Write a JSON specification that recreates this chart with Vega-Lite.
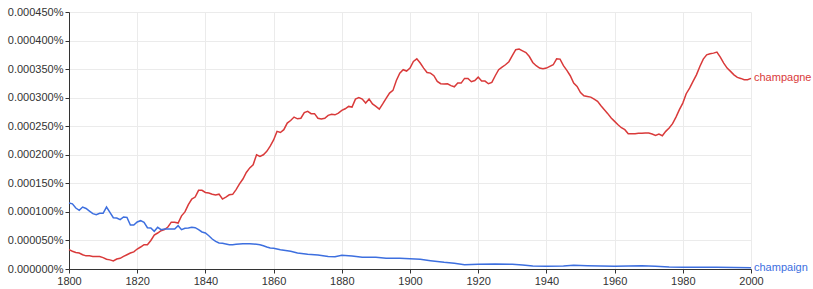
{
  "$schema": "https://vega.github.io/schema/vega-lite/v6.json",
  "width": 682,
  "height": 257,
  "autosize": {"type": "none"},
  "padding": {"left": 69, "top": 12, "right": 62, "bottom": 20},
  "config": {
    "view": {"stroke": null},
    "font": "Liberation Sans",
    "axis": {
      "labelFont": "Liberation Sans",
      "labelFontSize": 11,
      "labelColor": "#333333",
      "domainColor": "#333333",
      "tickColor": "#333333",
      "gridColor": "#ebebeb",
      "tickSize": 4,
      "labelPadding": 2,
      "title": null
    }
  },
  "datasets": {
    "ngram": [
      {"year":1800,"word":"champagne","v":33.8e-6},{"year":1801,"word":"champagne","v":31e-6},{"year":1802,"word":"champagne","v":29e-6},{"year":1803,"word":"champagne","v":28e-6},{"year":1804,"word":"champagne","v":25e-6},{"year":1805,"word":"champagne","v":23e-6},{"year":1806,"word":"champagne","v":23e-6},{"year":1807,"word":"champagne","v":22e-6},{"year":1808,"word":"champagne","v":22e-6},{"year":1809,"word":"champagne","v":22e-6},
      {"year":1810,"word":"champagne","v":20e-6},{"year":1811,"word":"champagne","v":17e-6},{"year":1812,"word":"champagne","v":16e-6},{"year":1813,"word":"champagne","v":14e-6},{"year":1814,"word":"champagne","v":17.5e-6},{"year":1815,"word":"champagne","v":18.7e-6},{"year":1816,"word":"champagne","v":22e-6},{"year":1817,"word":"champagne","v":25e-6},{"year":1818,"word":"champagne","v":28e-6},{"year":1819,"word":"champagne","v":30e-6},
      {"year":1820,"word":"champagne","v":35e-6},{"year":1821,"word":"champagne","v":38.5e-6},{"year":1822,"word":"champagne","v":42.6e-6},{"year":1823,"word":"champagne","v":42.6e-6},{"year":1824,"word":"champagne","v":50e-6},{"year":1825,"word":"champagne","v":59.5e-6},{"year":1826,"word":"champagne","v":63e-6},{"year":1827,"word":"champagne","v":67e-6},{"year":1828,"word":"champagne","v":69e-6},{"year":1829,"word":"champagne","v":73.5e-6},
      {"year":1830,"word":"champagne","v":82e-6},{"year":1831,"word":"champagne","v":82e-6},{"year":1832,"word":"champagne","v":80.5e-6},{"year":1833,"word":"champagne","v":93e-6},{"year":1834,"word":"champagne","v":100e-6},{"year":1835,"word":"champagne","v":112.6e-6},{"year":1836,"word":"champagne","v":122.5e-6},{"year":1837,"word":"champagne","v":126e-6},{"year":1838,"word":"champagne","v":137.7e-6},{"year":1839,"word":"champagne","v":137.7e-6},
      {"year":1840,"word":"champagne","v":134e-6},{"year":1841,"word":"champagne","v":133e-6},{"year":1842,"word":"champagne","v":131e-6},{"year":1843,"word":"champagne","v":129.5e-6},{"year":1844,"word":"champagne","v":131e-6},{"year":1845,"word":"champagne","v":122.5e-6},{"year":1846,"word":"champagne","v":126e-6},{"year":1847,"word":"champagne","v":130e-6},{"year":1848,"word":"champagne","v":130.7e-6},{"year":1849,"word":"champagne","v":139e-6},
      {"year":1850,"word":"champagne","v":149e-6},{"year":1851,"word":"champagne","v":157.5e-6},{"year":1852,"word":"champagne","v":169e-6},{"year":1853,"word":"champagne","v":177e-6},{"year":1854,"word":"champagne","v":182.6e-6},{"year":1855,"word":"champagne","v":200e-6},{"year":1856,"word":"champagne","v":197e-6},{"year":1857,"word":"champagne","v":200e-6},{"year":1858,"word":"champagne","v":206e-6},{"year":1859,"word":"champagne","v":215e-6},
      {"year":1860,"word":"champagne","v":226e-6},{"year":1861,"word":"champagne","v":241e-6},{"year":1862,"word":"champagne","v":239e-6},{"year":1863,"word":"champagne","v":244e-6},{"year":1864,"word":"champagne","v":255.5e-6},{"year":1865,"word":"champagne","v":260e-6},{"year":1866,"word":"champagne","v":266e-6},{"year":1867,"word":"champagne","v":263e-6},{"year":1868,"word":"champagne","v":264e-6},{"year":1869,"word":"champagne","v":274e-6},
      {"year":1870,"word":"champagne","v":276e-6},{"year":1871,"word":"champagne","v":272e-6},{"year":1872,"word":"champagne","v":272e-6},{"year":1873,"word":"champagne","v":264e-6},{"year":1874,"word":"champagne","v":262.5e-6},{"year":1875,"word":"champagne","v":264e-6},{"year":1876,"word":"champagne","v":269e-6},{"year":1877,"word":"champagne","v":271e-6},{"year":1878,"word":"champagne","v":270e-6},{"year":1879,"word":"champagne","v":273e-6},
      {"year":1880,"word":"champagne","v":277.7e-6},{"year":1881,"word":"champagne","v":280.6e-6},{"year":1882,"word":"champagne","v":284.7e-6},{"year":1883,"word":"champagne","v":283.5e-6},{"year":1884,"word":"champagne","v":297.5e-6},{"year":1885,"word":"champagne","v":300e-6},{"year":1886,"word":"champagne","v":297.5e-6},{"year":1887,"word":"champagne","v":290.5e-6},{"year":1888,"word":"champagne","v":297.5e-6},{"year":1889,"word":"champagne","v":289e-6},
      {"year":1890,"word":"champagne","v":284.7e-6},{"year":1891,"word":"champagne","v":280e-6},{"year":1892,"word":"champagne","v":289e-6},{"year":1893,"word":"champagne","v":298.7e-6},{"year":1894,"word":"champagne","v":308e-6},{"year":1895,"word":"champagne","v":312.7e-6},{"year":1896,"word":"champagne","v":330e-6},{"year":1897,"word":"champagne","v":343e-6},{"year":1898,"word":"champagne","v":349e-6},{"year":1899,"word":"champagne","v":346.6e-6},
      {"year":1900,"word":"champagne","v":351.8e-6},{"year":1901,"word":"champagne","v":363.5e-6},{"year":1902,"word":"champagne","v":368e-6},{"year":1903,"word":"champagne","v":360.6e-6},{"year":1904,"word":"champagne","v":351.8e-6},{"year":1905,"word":"champagne","v":344e-6},{"year":1906,"word":"champagne","v":343e-6},{"year":1907,"word":"champagne","v":338.4e-6},{"year":1908,"word":"champagne","v":328.5e-6},{"year":1909,"word":"champagne","v":324.4e-6},
      {"year":1910,"word":"champagne","v":323.8e-6},{"year":1911,"word":"champagne","v":324.4e-6},{"year":1912,"word":"champagne","v":321e-6},{"year":1913,"word":"champagne","v":319e-6},{"year":1914,"word":"champagne","v":325.5e-6},{"year":1915,"word":"champagne","v":325.5e-6},{"year":1916,"word":"champagne","v":333.7e-6},{"year":1917,"word":"champagne","v":333.7e-6},{"year":1918,"word":"champagne","v":328e-6},{"year":1919,"word":"champagne","v":330e-6},
      {"year":1920,"word":"champagne","v":336e-6},{"year":1921,"word":"champagne","v":329e-6},{"year":1922,"word":"champagne","v":329e-6},{"year":1923,"word":"champagne","v":324.4e-6},{"year":1924,"word":"champagne","v":326.7e-6},{"year":1925,"word":"champagne","v":338.4e-6},{"year":1926,"word":"champagne","v":349e-6},{"year":1927,"word":"champagne","v":353.6e-6},{"year":1928,"word":"champagne","v":357.6e-6},{"year":1929,"word":"champagne","v":363e-6},
      {"year":1930,"word":"champagne","v":373.4e-6},{"year":1931,"word":"champagne","v":384e-6},{"year":1932,"word":"champagne","v":385e-6},{"year":1933,"word":"champagne","v":382e-6},{"year":1934,"word":"champagne","v":379e-6},{"year":1935,"word":"champagne","v":372e-6},{"year":1936,"word":"champagne","v":361.7e-6},{"year":1937,"word":"champagne","v":356e-6},{"year":1938,"word":"champagne","v":351.8e-6},{"year":1939,"word":"champagne","v":350.6e-6},
      {"year":1940,"word":"champagne","v":351.8e-6},{"year":1941,"word":"champagne","v":354.7e-6},{"year":1942,"word":"champagne","v":357.6e-6},{"year":1943,"word":"champagne","v":368e-6},{"year":1944,"word":"champagne","v":367.5e-6},{"year":1945,"word":"champagne","v":356e-6},{"year":1946,"word":"champagne","v":347.7e-6},{"year":1947,"word":"champagne","v":338.4e-6},{"year":1948,"word":"champagne","v":325.5e-6},{"year":1949,"word":"champagne","v":319.7e-6},
      {"year":1950,"word":"champagne","v":309e-6},{"year":1951,"word":"champagne","v":303.4e-6},{"year":1952,"word":"champagne","v":302.2e-6},{"year":1953,"word":"champagne","v":301e-6},{"year":1954,"word":"champagne","v":297.5e-6},{"year":1955,"word":"champagne","v":293.5e-6},{"year":1956,"word":"champagne","v":285.9e-6},{"year":1957,"word":"champagne","v":279e-6},{"year":1958,"word":"champagne","v":272e-6},{"year":1959,"word":"champagne","v":264.3e-6},
      {"year":1960,"word":"champagne","v":258.5e-6},{"year":1961,"word":"champagne","v":252.6e-6},{"year":1962,"word":"champagne","v":247.4e-6},{"year":1963,"word":"champagne","v":243.9e-6},{"year":1964,"word":"champagne","v":236.9e-6},{"year":1965,"word":"champagne","v":236.9e-6},{"year":1966,"word":"champagne","v":236.9e-6},{"year":1967,"word":"champagne","v":237.5e-6},{"year":1968,"word":"champagne","v":237.5e-6},{"year":1969,"word":"champagne","v":238e-6},
      {"year":1970,"word":"champagne","v":238e-6},{"year":1971,"word":"champagne","v":236.3e-6},{"year":1972,"word":"champagne","v":234e-6},{"year":1973,"word":"champagne","v":236.3e-6},{"year":1974,"word":"champagne","v":233.4e-6},{"year":1975,"word":"champagne","v":241e-6},{"year":1976,"word":"champagne","v":246.8e-6},{"year":1977,"word":"champagne","v":254.4e-6},{"year":1978,"word":"champagne","v":266e-6},{"year":1979,"word":"champagne","v":279e-6},
      {"year":1980,"word":"champagne","v":290.5e-6},{"year":1981,"word":"champagne","v":306.9e-6},{"year":1982,"word":"champagne","v":316.8e-6},{"year":1983,"word":"champagne","v":328.5e-6},{"year":1984,"word":"champagne","v":340e-6},{"year":1985,"word":"champagne","v":354.7e-6},{"year":1986,"word":"champagne","v":367.5e-6},{"year":1987,"word":"champagne","v":375e-6},{"year":1988,"word":"champagne","v":376.9e-6},{"year":1989,"word":"champagne","v":378e-6},
      {"year":1990,"word":"champagne","v":379.8e-6},{"year":1991,"word":"champagne","v":371e-6},{"year":1992,"word":"champagne","v":360.6e-6},{"year":1993,"word":"champagne","v":351.8e-6},{"year":1994,"word":"champagne","v":346e-6},{"year":1995,"word":"champagne","v":340e-6},{"year":1996,"word":"champagne","v":335.5e-6},{"year":1997,"word":"champagne","v":333.7e-6},{"year":1998,"word":"champagne","v":331.4e-6},{"year":1999,"word":"champagne","v":331.4e-6},
      {"year":2000,"word":"champagne","v":333.7e-6},
      {"year":1800,"word":"champaign","v":115.5e-6},{"year":1801,"word":"champaign","v":114e-6},{"year":1802,"word":"champaign","v":106.8e-6},{"year":1803,"word":"champaign","v":102.7e-6},{"year":1804,"word":"champaign","v":108.5e-6},{"year":1805,"word":"champaign","v":106e-6},{"year":1806,"word":"champaign","v":101.5e-6},{"year":1807,"word":"champaign","v":96.9e-6},{"year":1808,"word":"champaign","v":95e-6},{"year":1809,"word":"champaign","v":97.4e-6},
      {"year":1810,"word":"champaign","v":97.4e-6},{"year":1811,"word":"champaign","v":108.5e-6},{"year":1812,"word":"champaign","v":99e-6},{"year":1813,"word":"champaign","v":89.8e-6},{"year":1814,"word":"champaign","v":89.3e-6},{"year":1815,"word":"champaign","v":86.3e-6},{"year":1816,"word":"champaign","v":91e-6},{"year":1817,"word":"champaign","v":90.4e-6},{"year":1818,"word":"champaign","v":77e-6},{"year":1819,"word":"champaign","v":77e-6},
      {"year":1820,"word":"champaign","v":82.3e-6},{"year":1821,"word":"champaign","v":84.6e-6},{"year":1822,"word":"champaign","v":81.7e-6},{"year":1823,"word":"champaign","v":72.3e-6},{"year":1824,"word":"champaign","v":71.8e-6},{"year":1825,"word":"champaign","v":66e-6},{"year":1826,"word":"champaign","v":73e-6},{"year":1827,"word":"champaign","v":68.8e-6},{"year":1828,"word":"champaign","v":70e-6},{"year":1829,"word":"champaign","v":70e-6},
      {"year":1830,"word":"champaign","v":70e-6},{"year":1831,"word":"champaign","v":70e-6},{"year":1832,"word":"champaign","v":75.8e-6},{"year":1833,"word":"champaign","v":68.8e-6},{"year":1834,"word":"champaign","v":71.2e-6},{"year":1835,"word":"champaign","v":71.8e-6},{"year":1836,"word":"champaign","v":73e-6},{"year":1837,"word":"champaign","v":72.3e-6},{"year":1838,"word":"champaign","v":68.8e-6},{"year":1839,"word":"champaign","v":64.8e-6},
      {"year":1840,"word":"champaign","v":63e-6},{"year":1841,"word":"champaign","v":58.3e-6},{"year":1842,"word":"champaign","v":52.5e-6},{"year":1843,"word":"champaign","v":48.4e-6},{"year":1844,"word":"champaign","v":45.5e-6},{"year":1845,"word":"champaign","v":45e-6},{"year":1846,"word":"champaign","v":43.8e-6},{"year":1847,"word":"champaign","v":42.6e-6},{"year":1848,"word":"champaign","v":42.6e-6},{"year":1849,"word":"champaign","v":43.2e-6},
      {"year":1850,"word":"champaign","v":43.8e-6},{"year":1851,"word":"champaign","v":44.3e-6},{"year":1852,"word":"champaign","v":44.3e-6},{"year":1853,"word":"champaign","v":44.3e-6},{"year":1854,"word":"champaign","v":43.8e-6},{"year":1855,"word":"champaign","v":43.2e-6},{"year":1856,"word":"champaign","v":42.6e-6},{"year":1857,"word":"champaign","v":40.8e-6},{"year":1858,"word":"champaign","v":38.5e-6},{"year":1859,"word":"champaign","v":36.8e-6},
      {"year":1860,"word":"champaign","v":36.2e-6},{"year":1862,"word":"champaign","v":33.8e-6},{"year":1865,"word":"champaign","v":31e-6},{"year":1867,"word":"champaign","v":28e-6},{"year":1870,"word":"champaign","v":26e-6},{"year":1873,"word":"champaign","v":24.5e-6},{"year":1876,"word":"champaign","v":22e-6},{"year":1878,"word":"champaign","v":21.6e-6},{"year":1880,"word":"champaign","v":24e-6},{"year":1883,"word":"champaign","v":22.7e-6},
      {"year":1886,"word":"champaign","v":20.4e-6},{"year":1890,"word":"champaign","v":20.4e-6},{"year":1893,"word":"champaign","v":18.7e-6},{"year":1897,"word":"champaign","v":18.7e-6},{"year":1900,"word":"champaign","v":18e-6},{"year":1903,"word":"champaign","v":17e-6},{"year":1906,"word":"champaign","v":14.6e-6},{"year":1910,"word":"champaign","v":11.7e-6},{"year":1913,"word":"champaign","v":10e-6},{"year":1916,"word":"champaign","v":7.6e-6},
      {"year":1920,"word":"champaign","v":8.2e-6},{"year":1925,"word":"champaign","v":8.8e-6},{"year":1930,"word":"champaign","v":8.2e-6},{"year":1933,"word":"champaign","v":7e-6},{"year":1936,"word":"champaign","v":5.3e-6},{"year":1940,"word":"champaign","v":4.7e-6},{"year":1945,"word":"champaign","v":5.3e-6},{"year":1948,"word":"champaign","v":6.4e-6},{"year":1952,"word":"champaign","v":5.8e-6},{"year":1956,"word":"champaign","v":5.3e-6},
      {"year":1960,"word":"champaign","v":4.7e-6},{"year":1964,"word":"champaign","v":5.3e-6},{"year":1968,"word":"champaign","v":5.8e-6},{"year":1972,"word":"champaign","v":4.7e-6},{"year":1976,"word":"champaign","v":3.5e-6},{"year":1980,"word":"champaign","v":2.9e-6},{"year":1990,"word":"champaign","v":2.9e-6},{"year":2000,"word":"champaign","v":2.3e-6}
    ]
  },
  "data": {"name": "ngram"},
  "encoding": {
    "x": {
      "field": "year",
      "type": "quantitative",
      "scale": {"domain": [1800, 2000], "nice": false, "zero": false},
      "axis": {"values": [1800, 1820, 1840, 1860, 1880, 1900, 1920, 1940, 1960, 1980, 2000], "format": "d", "labelFlush": false}
    },
    "y": {
      "field": "v",
      "type": "quantitative",
      "scale": {"domain": [0, 0.00045], "nice": false},
      "axis": {"values": [0, 0.00005, 0.0001, 0.00015, 0.0002, 0.00025, 0.0003, 0.00035, 0.0004, 0.00045], "labelExpr": "format(datum.value, '.6f') + '%'", "labelFlush": false}
    },
    "color": {
      "field": "word",
      "type": "nominal",
      "scale": {"domain": ["champagne", "champaign"], "range": ["#d93a3a", "#3d6fdf"]},
      "legend": null
    }
  },
  "layer": [
    {"mark": {"type": "line", "strokeWidth": 1.5}},
    {
      "transform": [{"filter": "datum.year == 2000"}],
      "mark": {"type": "text", "align": "left", "baseline": "middle", "dx": 3, "fontSize": 11, "font": "Liberation Sans"},
      "encoding": {"text": {"field": "word"}}
    }
  ]
}
